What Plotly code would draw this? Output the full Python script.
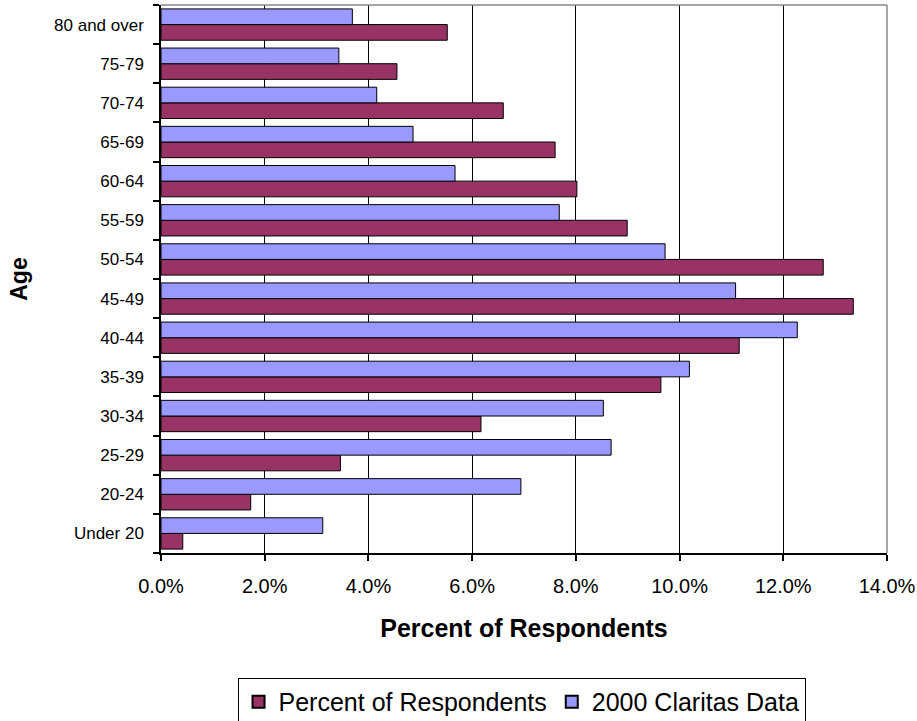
import plotly.graph_objects as go

# Age groups, bottom to top
age_groups = ["Under 20", "20-24", "25-29", "30-34", "35-39", "40-44", "45-49",
              "50-54", "55-59", "60-64", "65-69", "70-74", "75-79", "80 and over"]

# Share of survey respondents in each age group
respondents = [0.0042, 0.0173, 0.0346, 0.0617, 0.0964, 0.1115, 0.1335,
               0.1277, 0.0899, 0.0802, 0.0760, 0.0660, 0.0455, 0.0552]

# Share of the population from 2000 Claritas data
claritas = [0.0312, 0.0694, 0.0868, 0.0853, 0.1019, 0.1227, 0.1108,
            0.0972, 0.0768, 0.0567, 0.0486, 0.0416, 0.0343, 0.0369]

x_ticks = [0, 0.02, 0.04, 0.06, 0.08, 0.10, 0.12, 0.14]

font_family = "Liberation Sans, Arial, sans-serif"

fig = go.Figure()
fig.add_trace(go.Bar(
    y=age_groups, x=respondents, orientation="h", name="Percent of Respondents",
    marker=dict(color="#993366", line=dict(color="black", width=1)),
))
fig.add_trace(go.Bar(
    y=age_groups, x=claritas, orientation="h", name="2000 Claritas Data",
    marker=dict(color="#9999FF", line=dict(color="black", width=1)),
))

fig.update_layout(
    width=917, height=721,
    margin=dict(l=161, r=30, t=5, b=168, autoexpand=False),
    barmode="group", bargap=0.2, bargroupgap=0,
    plot_bgcolor="white", paper_bgcolor="white",
    font=dict(family=font_family, color="black"),
    showlegend=True,
    legend=dict(
        orientation="h", x=0.4966, xanchor="center", y=-0.228, yanchor="top",
        bordercolor="black", borderwidth=1, font=dict(size=25),
        itemsizing="constant", traceorder="normal",
    ),
    shapes=[
        dict(type="line", xref="paper", yref="paper", x0=0, x1=1, y0=1, y1=1,
             line=dict(color="#888888", width=1.5), layer="above"),
        dict(type="line", xref="paper", yref="paper", x0=1, x1=1, y0=0, y1=1,
             line=dict(color="#888888", width=1.5), layer="above"),
    ],
)

fig.update_xaxes(
    range=[0, 0.14], tickvals=x_ticks, tickformat=".1%",
    showgrid=True, gridcolor="black", gridwidth=1,
    showline=True, linecolor="black", linewidth=1.5,
    ticks="outside", ticklen=6, tickcolor="black", tickwidth=1.5,
    tickfont=dict(size=20), ticklabelstandoff=8, zeroline=False,
    title=dict(text="<b>Percent of Respondents</b>", font=dict(size=25), standoff=24),
)
fig.update_yaxes(
    type="category", categoryorder="array", categoryarray=age_groups,
    showgrid=False, showline=True, linecolor="black", linewidth=1.5,
    ticks="outside", tickson="boundaries", ticklen=6, tickcolor="black", tickwidth=1.5,
    tickfont=dict(size=17), ticklabelstandoff=12,
    title=dict(text="<b>Age</b>", font=dict(size=23), standoff=20),
)

fig.write_html("out.html")
